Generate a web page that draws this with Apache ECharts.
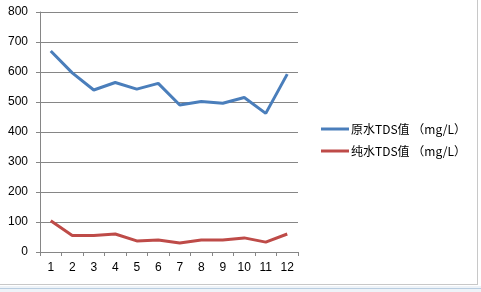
<!DOCTYPE html>
<html><head><meta charset="utf-8">
<script src="https://cdn.jsdelivr.net/npm/echarts@6/dist/echarts.min.js"></script>
<style>html,body{margin:0;padding:0;background:#fff}#c{width:481px;height:292px}</style>
</head><body><div id="c"></div>
<script>
const categories = ['1','2','3','4','5','6','7','8','9','10','11','12'];
const rawName = '原水TDS值 （mg/L）';
const pureName = '纯水TDS值 （mg/L）';
const rawValues = [670, 597, 540, 565, 543, 562, 490, 502, 496, 515, 462, 593];
const pureValues = [104, 55, 55, 60, 37, 40, 30, 40, 40, 47, 33, 60];
const yTicks = [0, 100, 200, 300, 400, 500, 600, 700, 800];

const chart = echarts.init(document.getElementById('c'), null, {renderer: 'canvas'});
const font = 'Liberation Sans, Arial, sans-serif';
chart.setOption({
  animation: false,
  backgroundColor: '#fff',
  grid: {left: 40, right: 183, top: 12, bottom: 40, containLabel: false},
  legend: {
    orient: 'vertical', left: 316, top: 118, itemGap: 10,
    itemWidth: 28, itemHeight: 3, icon: 'rect',
    textStyle: {fontFamily: 'Noto Sans CJK SC, sans-serif', fontSize: 12, color: '#000', padding: [0, 0, 0, -3]},
    data: [rawName, pureName]
  },
  xAxis: {
    type: 'category', data: categories, boundaryGap: true,
    axisLine: {lineStyle: {color: '#868686', width: 1}},
    axisTick: {show: true, length: 4, interval: 0, lineStyle: {color: '#868686'}},
    axisLabel: {margin: 10, fontFamily: font, fontSize: 12, color: '#000', interval: 0}
  },
  yAxis: {
    type: 'value', min: yTicks[0], max: yTicks[yTicks.length - 1], interval: 100,
    axisLine: {show: true, lineStyle: {color: '#868686', width: 1}},
    axisTick: {show: true, length: 4, inside: false, lineStyle: {color: '#868686'}},
    splitLine: {lineStyle: {color: '#868686', width: 1}},
    axisLabel: {margin: 12, fontFamily: font, fontSize: 12, color: '#000'}
  },
  series: [
    {name: rawName, type: 'line', data: rawValues, symbol: 'none',
     lineStyle: {color: '#4A7EBB', width: 3}, itemStyle: {color: '#4A7EBB'}},
    {name: pureName, type: 'line', data: pureValues, symbol: 'none',
     lineStyle: {color: '#BE4B48', width: 3}, itemStyle: {color: '#BE4B48'}}
  ],
  graphic: [
    {type: 'line', shape: {x1: 477.5, y1: 0, x2: 477.5, y2: 284}, style: {stroke: '#c8c8c8', lineWidth: 1}},
    {type: 'line', shape: {x1: 0, y1: 284.5, x2: 478, y2: 284.5}, style: {stroke: '#c8c8c8', lineWidth: 1}},
    {type: 'rect', shape: {x: 0, y: 286, width: 481, height: 6}, style: {fill: '#eef3f8'}},
    {type: 'line', shape: {x1: 0, y1: 288.5, x2: 481, y2: 288.5}, style: {stroke: '#b9cde0', lineWidth: 1}}
  ]
});
</script></body></html>
